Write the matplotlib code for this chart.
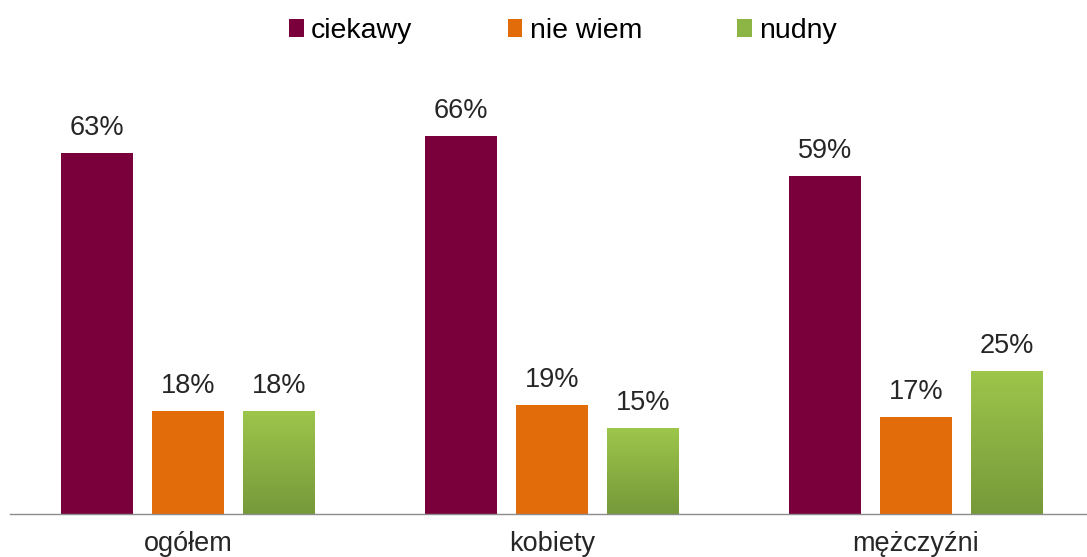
import numpy as np
import matplotlib
matplotlib.use("Agg")
import matplotlib.pyplot as plt
from matplotlib.patches import Patch
from matplotlib.colors import LinearSegmentedColormap

plt.rcParams['font.family'] = ['Liberation Sans', 'DejaVu Sans']

categories = ["ogółem", "kobiety", "mężczyźni"]
series_names = ["ciekawy", "nie wiem", "nudny"]
ciekawy = [63, 66, 59]
nie_wiem = [18, 19, 17]
nudny = [18, 15, 25]

colors = ["#7A003C", "#E36C0A", "#8DB545"]
text_color = "#262626"

fig = plt.figure(figsize=(10.87, 5.57), dpi=100)
W, H = 1087, 557
ax_left, ax_right = 10 / W, 1.0
ax_bottom, ax_top = (H - 514) / H, (H - 100) / H
ax = fig.add_axes([ax_left, ax_bottom, ax_right - ax_left, ax_top - ax_bottom])

x = np.arange(len(categories))
pitch = 91 / 364
width = 72 / 364
green_cmap = LinearSegmentedColormap.from_list("g", ["#76993A", "#9DC64B"])

all_series = [ciekawy, nie_wiem, nudny]
for i, (vals, col) in enumerate(zip(all_series, colors)):
    pos = x + (i - 1) * pitch
    bars = ax.bar(pos, vals, width=width, color=col, zorder=2)
    if i == 2:
        grad = np.linspace(0, 1, 256).reshape(-1, 1)
        for b in bars:
            b.set_facecolor("none")
            bx, by = b.get_x(), b.get_y()
            bw, bh = b.get_width(), b.get_height()
            im = ax.imshow(grad, extent=[bx, bx + bw, by, by + bh], origin="lower",
                           cmap=green_cmap, aspect="auto", zorder=1.9)
            im.set_clip_path(b)
    for p, v in zip(pos, vals):
        ax.annotate(f"{v}%", (p, v), xytext=(0, 8.5), textcoords="offset points",
                    ha="center", va="bottom", fontsize=19.5, color=text_color)

ax.set_xlim((10 - 188) / 364, (1087 - 188) / 364)
ax.set_ylim(0, 414 / (361 / 63))
ax.set_xticks(x)
ax.set_xticklabels(categories, fontsize=19.5, color=text_color)
ax.tick_params(axis="x", length=0, pad=12)
ax.set_yticks([])
for s in ["top", "right", "left"]:
    ax.spines[s].set_visible(False)
ax.spines["bottom"].set_color("#8C8C8C")
ax.spines["bottom"].set_linewidth(1.0)
ax.spines["bottom"].set_zorder(3)

handles = [Patch(facecolor=colors[0]), Patch(facecolor=colors[1]),
           Patch(facecolor="#8DB545")]
fig.legend(handles, series_names, loc="center", bbox_to_anchor=(563 / W, 1 - 31 / H),
           ncol=3, frameon=False, fontsize=20.5, handlelength=0.52, handleheight=0.55,
           handletextpad=0.25, columnspacing=3.35, labelcolor="#000000",
           borderpad=0, borderaxespad=0)

fig.savefig("out.png", dpi=100)
